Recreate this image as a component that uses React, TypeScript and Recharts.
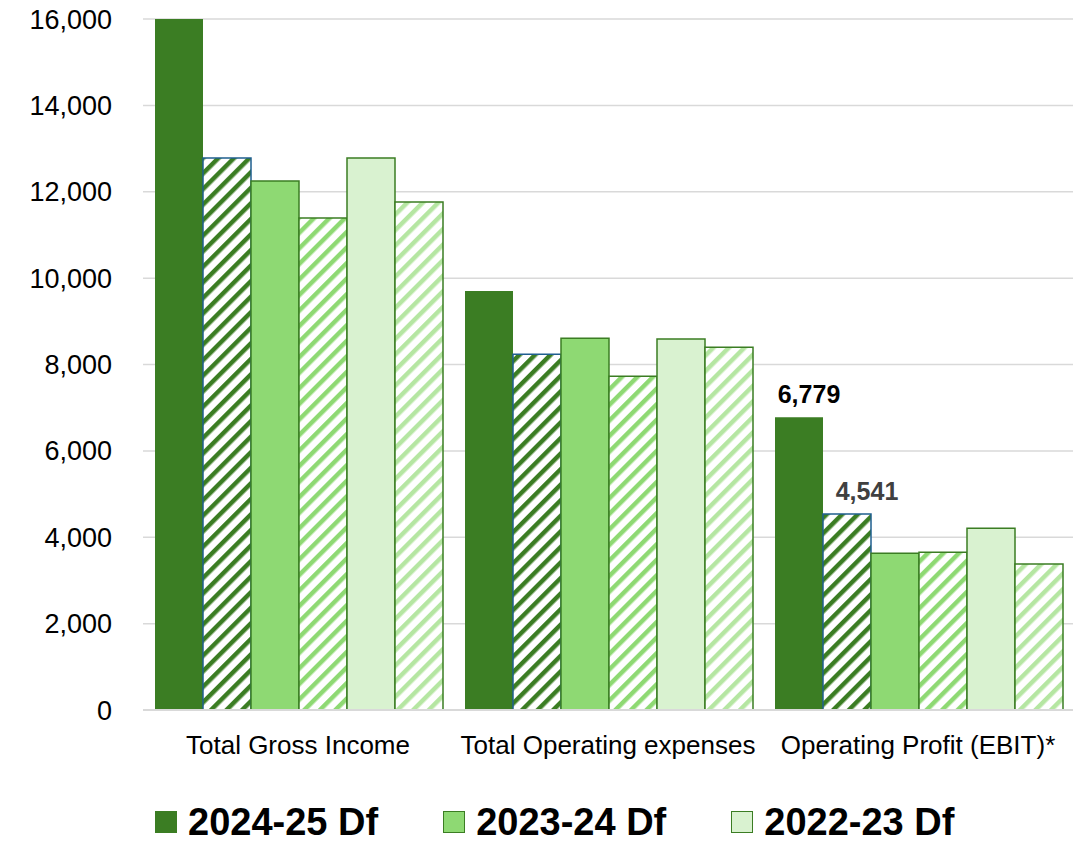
import React from "react";
import { BarChart, Bar, XAxis, YAxis, CartesianGrid, Legend, LabelList } from "recharts";

const categories = ["Total Gross Income", "Total Operating expenses", "Operating Profit (EBIT)*"];
const df2425 = [16000, 9700, 6779];
const hatch2425 = [12780, 8240, 4541];
const df2324 = [12250, 8610, 3630];
const hatch2324 = [11390, 7730, 3650];
const df2223 = [12780, 8590, 4210];
const hatch2223 = [11760, 8400, 3380];
const yTicks = [0, 2000, 4000, 6000, 8000, 10000, 12000, 14000, 16000];
const legendItems = [
  { label: "2024-25 Df", fill: "#3B7D23", stroke: "#3B7D23" },
  { label: "2023-24 Df", fill: "#8ED973", stroke: "#3B7D23" },
  { label: "2022-23 Df", fill: "#D9F2D0", stroke: "#3B7D23" },
];

const data = categories.map((name, i) => ({
  name,
  df2425: df2425[i],
  hatch2425: hatch2425[i],
  df2324: df2324[i],
  hatch2324: hatch2324[i],
  df2223: df2223[i],
  hatch2223: hatch2223[i],
}));

const DARK = "#3B7D23";
const fmt = (v: number) => v.toLocaleString("en-US");

const makeLabel = (color: string, dx: number) => (props: any) => {
  const { x, y, width, value, index } = props;
  if (index !== 2) return null;
  return (
    <text
      x={Number(x) + Number(width) / 2 + dx}
      y={Number(y) - 14}
      textAnchor="middle"
      fontFamily="Liberation Sans, Arial, sans-serif"
      fontWeight="bold"
      fontSize={25}
      fill={color}
    >
      {fmt(Number(value))}
    </text>
  );
};

const renderLegend = () => (
  <div style={{ display: "flex", alignItems: "center", paddingLeft: 155, paddingTop: 14, fontFamily: "Liberation Sans, Arial, sans-serif" }}>
    {legendItems.map((it, i) => (
      <div key={i} style={{ display: "flex", alignItems: "center", marginRight: i < 2 ? 65 : 0 }}>
        <div
          style={{
            width: 20,
            height: 20,
            background: it.fill,
            border: `1.5px solid ${it.stroke}`,
            marginRight: 11,
          }}
        />
        <span style={{ fontSize: 38, fontWeight: "bold", color: "#000", lineHeight: "36px" }}>{it.label}</span>
      </div>
    ))}
  </div>
);

export default function App() {
  return (
    <div style={{ position: "absolute", left: 0, top: 0, background: "#fff" }}>
      <BarChart
        width={1076}
        height={845}
        data={data}
        margin={{ top: 19, right: 3, left: 0, bottom: 0 }}
        barGap={0}
        barCategoryGap={12}
      >
        <defs>
          <pattern id="hDark" patternUnits="userSpaceOnUse" width="11" height="11" patternTransform="rotate(45)">
            <rect width="11" height="11" fill="#ffffff" />
            <rect width="4.5" height="11" fill="#3B7D23" />
          </pattern>
          <pattern id="hMid" patternUnits="userSpaceOnUse" width="11" height="11" patternTransform="rotate(45)">
            <rect width="11" height="11" fill="#ffffff" />
            <rect width="4.5" height="11" fill="#8ED973" />
          </pattern>
          <pattern id="hLight" patternUnits="userSpaceOnUse" width="11" height="11" patternTransform="rotate(45)">
            <rect width="11" height="11" fill="#ffffff" />
            <rect width="4.5" height="11" fill="#B5E6A2" />
          </pattern>
        </defs>
        <CartesianGrid vertical={false} stroke="#D9D9D9" strokeWidth={1.5} />
        <XAxis
          dataKey="name"
          height={80}
          tickLine={false}
          tickSize={0}
          tickMargin={26}
          axisLine={{ stroke: "#D9D9D9", strokeWidth: 2 }}
          tick={{ fontSize: 26, fill: "#000", fontFamily: "Liberation Sans, Arial, sans-serif" }}
          interval={0}
        />
        <YAxis
          width={143}
          domain={[0, 16000]}
          ticks={yTicks}
          allowDataOverflow
          axisLine={false}
          tickLine={false}
          tickSize={0}
          tickMargin={31}
          tickFormatter={fmt}
          tick={{ fontSize: 27, fill: "#000", fontFamily: "Liberation Sans, Arial, sans-serif" }}
        />
        <Legend verticalAlign="bottom" height={55} content={renderLegend} />
        <Bar dataKey="df2425" name="2024-25 Df" fill={DARK} isAnimationActive={false}>
          <LabelList dataKey="df2425" content={makeLabel("#000000", 10)} />
        </Bar>
        <Bar dataKey="hatch2425" name="2024-25 Df (hatched)" legendType="none" fill="url(#hDark)" stroke="#1F5F8F" strokeWidth={1.5} isAnimationActive={false}>
          <LabelList dataKey="hatch2425" content={makeLabel("#404040", 20)} />
        </Bar>
        <Bar dataKey="df2324" name="2023-24 Df" fill="#8ED973" stroke={DARK} strokeWidth={1.5} isAnimationActive={false} />
        <Bar dataKey="hatch2324" name="2023-24 Df (hatched)" legendType="none" fill="url(#hMid)" stroke={DARK} strokeWidth={1.5} isAnimationActive={false} />
        <Bar dataKey="df2223" name="2022-23 Df" fill="#D9F2D0" stroke={DARK} strokeWidth={1.5} isAnimationActive={false} />
        <Bar dataKey="hatch2223" name="2022-23 Df (hatched)" legendType="none" fill="url(#hLight)" stroke={DARK} strokeWidth={1.5} isAnimationActive={false} />
      </BarChart>
    </div>
  );
}
